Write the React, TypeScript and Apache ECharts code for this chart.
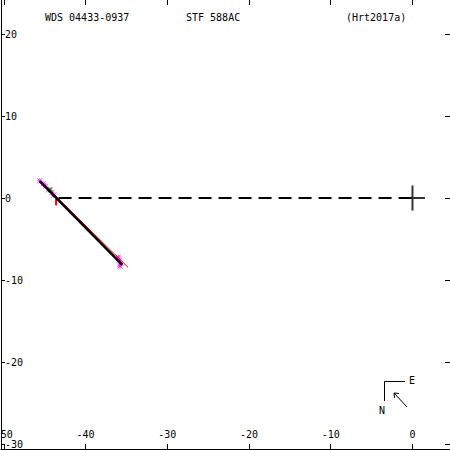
import React, { useEffect, useRef } from "react";
import * as echarts from "echarts";

const xTicks = [-50, -40, -30, -20, -10, 0];
const yTicks = [-30, -20, -10, 0, 10, 20];
const orbitLine = [[-45.6, 2.05], [-35.5, -8.15]];
const redLine = [[-45.3, 1.85], [-34.8, -8.45]];
const nodeLine = [[-43.3, 0], [0, 0]];
const nodeMark = [[-43.6, -0.1], [-43.6, -0.9]];
const magentaPts = [
  [-45.6, 2.1], [-45.2, 1.75], [-44.9, 1.45], [-44.5, 1.0], [-44.1, 0.7], [-43.9, 0.35],
  [-36.0, -7.2], [-35.9, -7.6], [-35.7, -7.95], [-35.8, -8.3],
];
const greenPts = [[-44.3, 1.05]];
const originPt = [[0, 0]];
const titles = ["WDS 04433-0937", "STF 588AC", "(Hrt2017a)"];

const FONT = "DejaVu Sans Mono";

export default function App() {
  const ref = useRef<HTMLDivElement>(null);
  useEffect(() => {
    const chart = echarts.init(ref.current!, null, { renderer: "svg" });
    const xTickStyle = { show: true, inside: true, length: 5, lineStyle: { color: "#000", width: 1 } };
    const yTickStyle = { show: true, inside: true, length: 4, lineStyle: { color: "#000", width: 1 } };
    chart.setOption({
      animation: false,
      backgroundColor: "#fff",
      grid: { left: 1, right: 0, top: 0, bottom: 1, containLabel: false, outerBoundsMode: "none" },
      xAxis: [
        {
          type: "value",
          min: -50.34,
          max: 4.59,
          position: "bottom",
          axisLine: { show: true, onZero: false, lineStyle: { color: "#000", width: 1 } },
          axisTick: { ...xTickStyle, customValues: xTicks },
          axisLabel: {
            inside: true, margin: 10, color: "#000", fontFamily: FONT, fontSize: 10,
            customValues: xTicks, formatter: (v: number) => String(v),
          },
          splitLine: { show: false },
        },
        {
          type: "value",
          min: -50.34,
          max: 4.59,
          position: "top",
          axisLine: { show: false, onZero: false },
          axisTick: { ...xTickStyle, customValues: xTicks },
          axisLabel: { show: false },
          splitLine: { show: false },
        },
      ],
      yAxis: [
        {
          type: "value",
          min: -30.6,
          max: 24.15,
          position: "left",
          axisLine: { show: true, onZero: false, lineStyle: { color: "#000", width: 1 } },
          axisTick: { ...yTickStyle, customValues: yTicks },
          axisLabel: {
            inside: true, margin: 4, color: "#000", fontFamily: FONT, fontSize: 10,
            customValues: yTicks, formatter: (v: number) => String(v),
          },
          splitLine: { show: false },
        },
        {
          type: "value",
          min: -30.6,
          max: 24.15,
          position: "right",
          axisLine: { show: false, onZero: false },
          axisTick: { ...xTickStyle, customValues: yTicks },
          axisLabel: { show: false },
          splitLine: { show: false },
        },
      ],
      series: [
        {
          type: "line", data: nodeLine, symbol: "none",
          lineStyle: { color: "#000", width: 2, type: [13, 7] },
        },
        {
          type: "line", data: nodeMark, symbol: "none",
          lineStyle: { color: "#f00", width: 2 },
        },
        {
          type: "line", data: redLine, symbol: "none",
          lineStyle: { color: "#f00", width: 1 },
        },
        {
          type: "line", data: orbitLine, symbol: "none",
          lineStyle: { color: "#000", width: 2.5 },
        },
        {
          type: "scatter", data: magentaPts, symbol: "path://M0,0L10,10M10,0L0,10M5,0L5,10M0,5L10,5",
          symbolSize: 5,
          itemStyle: { color: "none", borderColor: "#f0f", borderWidth: 1 },
        },
        {
          type: "scatter", data: greenPts, symbol: "path://M0,0L10,10M10,0L0,10",
          symbolSize: 4,
          itemStyle: { color: "none", borderColor: "#080", borderWidth: 1.2 },
        },
        {
          type: "scatter", data: originPt, symbol: "path://M0,12L24,12M12,0L12,24",
          symbolSize: 25,
          itemStyle: { color: "none", borderColor: "#000", borderWidth: 2 },
        },
      ],
      graphic: [
        { type: "text", x: 45, y: 17, style: { text: titles[0], font: `10px '${FONT}'`, fill: "#000", verticalAlign: "middle" } },
        { type: "text", x: 186, y: 17, style: { text: titles[1], font: `10px '${FONT}'`, fill: "#000", verticalAlign: "middle" } },
        { type: "text", x: 346, y: 17, style: { text: titles[2], font: `10px '${FONT}'`, fill: "#000", verticalAlign: "middle" } },
        { type: "line", shape: { x1: 384, y1: 381.5, x2: 405, y2: 381.5 }, style: { stroke: "#000", lineWidth: 1 } },
        { type: "line", shape: { x1: 384.5, y1: 381, x2: 384.5, y2: 401 }, style: { stroke: "#000", lineWidth: 1 } },
        { type: "text", x: 409, y: 380, style: { text: "E", font: `10px '${FONT}'`, fill: "#000", verticalAlign: "middle" } },
        { type: "text", x: 379, y: 410, style: { text: "N", font: `10px '${FONT}'`, fill: "#000", verticalAlign: "middle" } },
        { type: "line", shape: { x1: 407, y1: 407, x2: 394, y2: 393 }, style: { stroke: "#000", lineWidth: 1 } },
        { type: "polyline", shape: { points: [[399, 393.5], [394, 393], [394.5, 398]] }, style: { stroke: "#000", lineWidth: 1, fill: "none" } },
      ],
    });
    return () => chart.dispose();
  }, []);
  return <div ref={ref} style={{ width: 450, height: 450, position: "absolute", left: 0, top: 0 }} />;
}
